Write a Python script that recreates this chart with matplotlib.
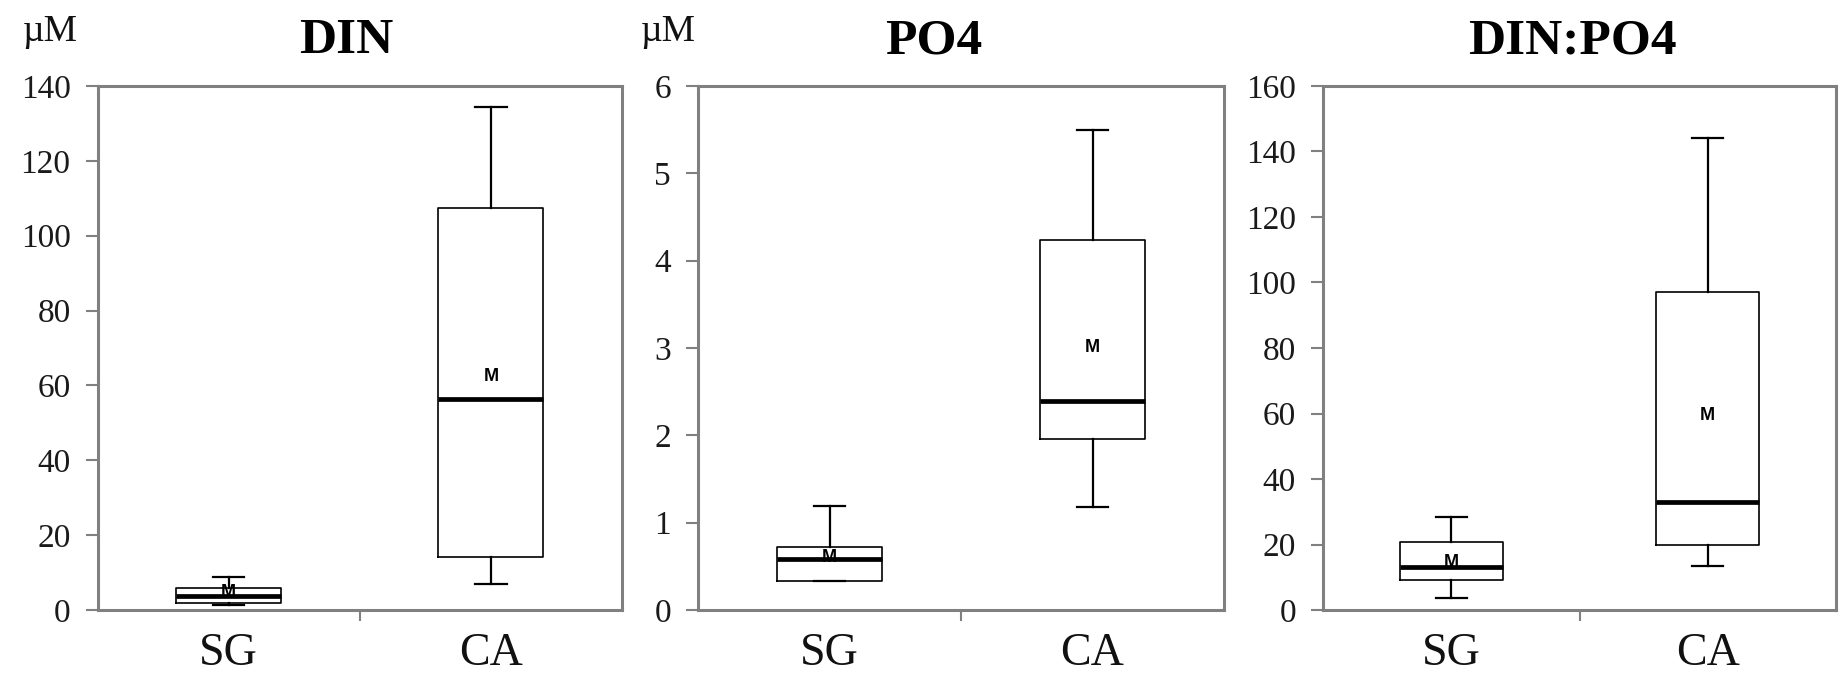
import matplotlib
matplotlib.use("Agg")
import matplotlib.pyplot as plt

sites = ["SG", "CA"]
titles = ["DIN", "PO4", "DIN:PO4"]
units = ["\u00b5M", "\u00b5M", ""]
y_max = [140, 6, 160]
y_step = [20, 1, 20]

# box stats: low whisker, q1, median, q3, high whisker, mean (the "M")
din_low = [1.4, 6.9]
din_q1 = [1.8, 14.1]
din_med = [3.7, 56.3]
din_q3 = [6.0, 107.5]
din_high = [8.7, 134.5]
din_mean = [4.8, 62.4]

po4_low = [0.33, 1.18]
po4_q1 = [0.33, 1.96]
po4_med = [0.58, 2.39]
po4_q3 = [0.72, 4.24]
po4_high = [1.19, 5.50]
po4_mean = [0.60, 3.0]

ratio_low = [3.6, 13.5]
ratio_q1 = [9.2, 19.8]
ratio_med = [13.2, 33.0]
ratio_q3 = [20.7, 97.0]
ratio_high = [28.4, 144.2]
ratio_mean = [14.5, 59.4]

panels = [
    (din_low, din_q1, din_med, din_q3, din_high, din_mean),
    (po4_low, po4_q1, po4_med, po4_q3, po4_high, po4_mean),
    (ratio_low, ratio_q1, ratio_med, ratio_q3, ratio_high, ratio_mean),
]

serif = "Liberation Serif"
frame = "#808080"

fig = plt.figure(figsize=(18.44, 6.8), dpi=100)
fig.patch.set_facecolor("white")

# axes rectangles in pixels (left, right), shared top/bottom
xs = [(97.6, 622), (698, 1224), (1323, 1836)]
top, bottom = 86, 610
title_x = [0.474, 0.449, 0.487]
unit_x = [-0.091, -0.057, 0]

for i, (low, q1, med, q3, high, mean) in enumerate(panels):
    l, r = xs[i]
    ax = fig.add_axes([l / 1844, (680 - bottom) / 680, (r - l) / 1844, (bottom - top) / 680])
    stats = []
    for j in range(len(sites)):
        stats.append(dict(whislo=low[j], q1=q1[j], med=med[j], q3=q3[j],
                          whishi=high[j], mean=mean[j], fliers=[], label=sites[j]))
    ax.bxp(stats, positions=[1, 2], widths=0.4, capwidths=0.12, showfliers=False,
           boxprops=dict(color="black", linewidth=1.2),
           medianprops=dict(color="black", linewidth=3.4, solid_capstyle="butt"),
           whiskerprops=dict(color="black", linewidth=1.6),
           capprops=dict(color="black", linewidth=1.6))
    for j in range(len(sites)):
        ax.text(j + 1, mean[j], "M", ha="center", va="center", fontsize=13,
                fontweight="bold", family="Liberation Sans", color="black")

    ax.set_xlim(0.5, 2.5)
    ax.set_ylim(0, y_max[i])
    ax.set_yticks(range(0, y_max[i] + 1, y_step[i]))
    ax.set_yticklabels([str(v) for v in range(0, y_max[i] + 1, y_step[i])],
                       fontsize=24, family=serif, color="#1a1a1a")
    ax.set_xticks([1.5])
    ax.set_xticklabels([""])
    ax.tick_params(axis="y", direction="out", length=8.5, width=1.5, color=frame, pad=11)
    ax.tick_params(axis="x", direction="out", length=8, width=1.5, color=frame)
    for s in ax.spines.values():
        s.set_color(frame)
        s.set_linewidth(2.2)
    for j, name in enumerate(sites):
        ax.text(j + 1, -0.083, name, transform=ax.get_xaxis_transform(), ha="center",
                va="center", fontsize=33, family=serif, color="#111111")

    ax.text(title_x[i], 1.085, titles[i], transform=ax.transAxes, ha="center", va="center",
            fontsize=37, fontweight="bold", family=serif, color="black")
    if units[i]:
        ax.text(unit_x[i], 1.104, units[i], transform=ax.transAxes, ha="center", va="center",
                fontsize=27, family=serif, color="#111111")

fig.savefig("out.png", dpi=100, facecolor="white")
